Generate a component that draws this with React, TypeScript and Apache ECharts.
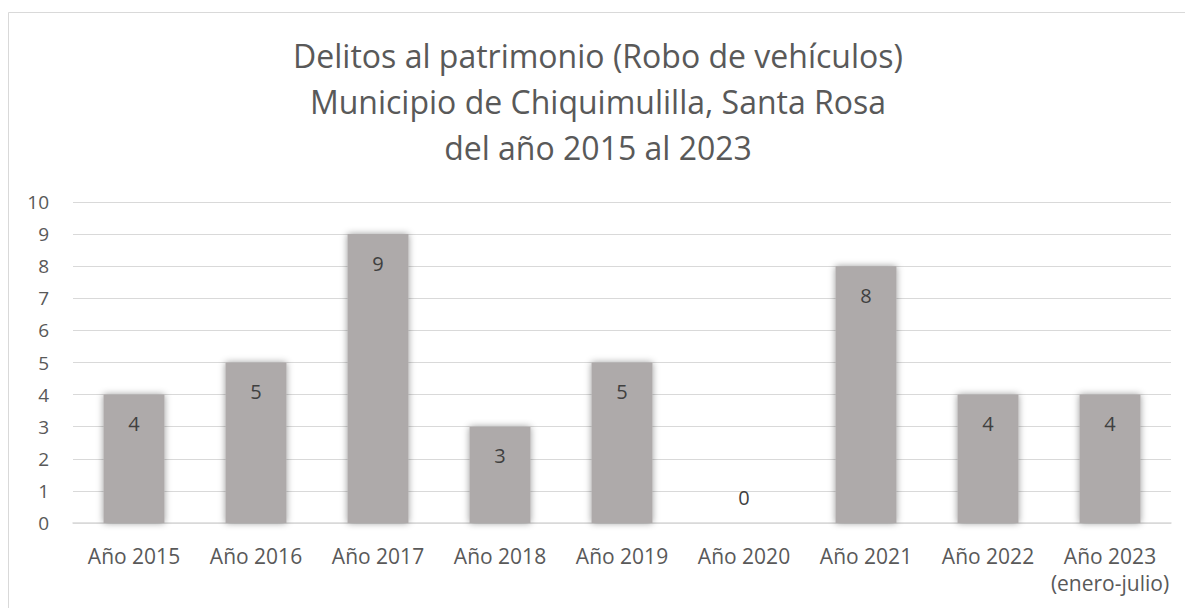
import React, { useEffect, useRef } from "react";
import * as echarts from "echarts";

const categories = [
  "Año 2015",
  "Año 2016",
  "Año 2017",
  "Año 2018",
  "Año 2019",
  "Año 2020",
  "Año 2021",
  "Año 2022",
  "Año 2023\n(enero-julio)",
];
const values = [4, 5, 9, 3, 5, 0, 8, 4, 4];
const titleLines = [
  "Delitos al patrimonio (Robo de vehículos)",
  "Municipio de Chiquimulilla, Santa Rosa",
  "del año 2015 al 2023",
];

const FONT = "'Open Sans', sans-serif";

export default function App() {
  const ref = useRef<HTMLDivElement>(null);
  useEffect(() => {
    if (!ref.current) return;
    const chart = echarts.init(ref.current, null, { renderer: "svg" });
    chart.setOption({
      animation: false,
      backgroundColor: "#ffffff",
      title: {
        text: titleLines.join("\n"),
        left: 593,
        textAlign: "center",
        top: 27,
        textStyle: {
          fontFamily: FONT,
          fontSize: 32,
          fontWeight: "normal",
          color: "#595959",
          lineHeight: 46,
        },
      },
      graphic: [
        {
          type: "rect",
          shape: { x: 8.5, y: 12.5, width: 1400, height: 800 },
          style: { fill: "none", stroke: "#d9d9d9", lineWidth: 1 },
          silent: true,
        },
      ],
      grid: { left: 73, right: 14, top: 202, bottom: 85 },
      xAxis: {
        type: "category",
        data: categories,
        axisLine: { show: true, lineStyle: { color: "#d9d9d9", width: 1.5 } },
        axisTick: { show: false },
        axisLabel: {
          fontFamily: FONT,
          fontSize: 21,
          color: "#595959",
          margin: 19,
          lineHeight: 27,
          interval: 0,
        },
      },
      yAxis: {
        type: "value",
        min: 0,
        max: 10,
        interval: 1,
        axisLine: { show: false },
        axisTick: { show: false },
        splitLine: { lineStyle: { color: "#d9d9d9", width: 1 } },
        axisLabel: {
          fontFamily: FONT,
          fontSize: 19,
          color: "#595959",
          margin: 24,
        },
      },
      series: [
        {
          type: "bar",
          barWidth: "50%",
          data: values.map((v) =>
            v === 0
              ? { value: v, label: { position: "top", distance: 16 } }
              : v
          ),
          itemStyle: {
            color: "#aeaaaa",
            shadowBlur: 7,
            shadowColor: "rgba(0,0,0,0.4)",
            shadowOffsetX: 0,
            shadowOffsetY: 0,
          },
          label: {
            show: true,
            position: "insideTop",
            distance: 19,
            fontFamily: FONT,
            fontSize: 20,
            color: "#404040",
          },
        },
      ],
    });
    return () => chart.dispose();
  }, []);
  return (
    <div
      ref={ref}
      style={{ position: "absolute", left: 0, top: 0, width: 1185, height: 608 }}
    />
  );
}
